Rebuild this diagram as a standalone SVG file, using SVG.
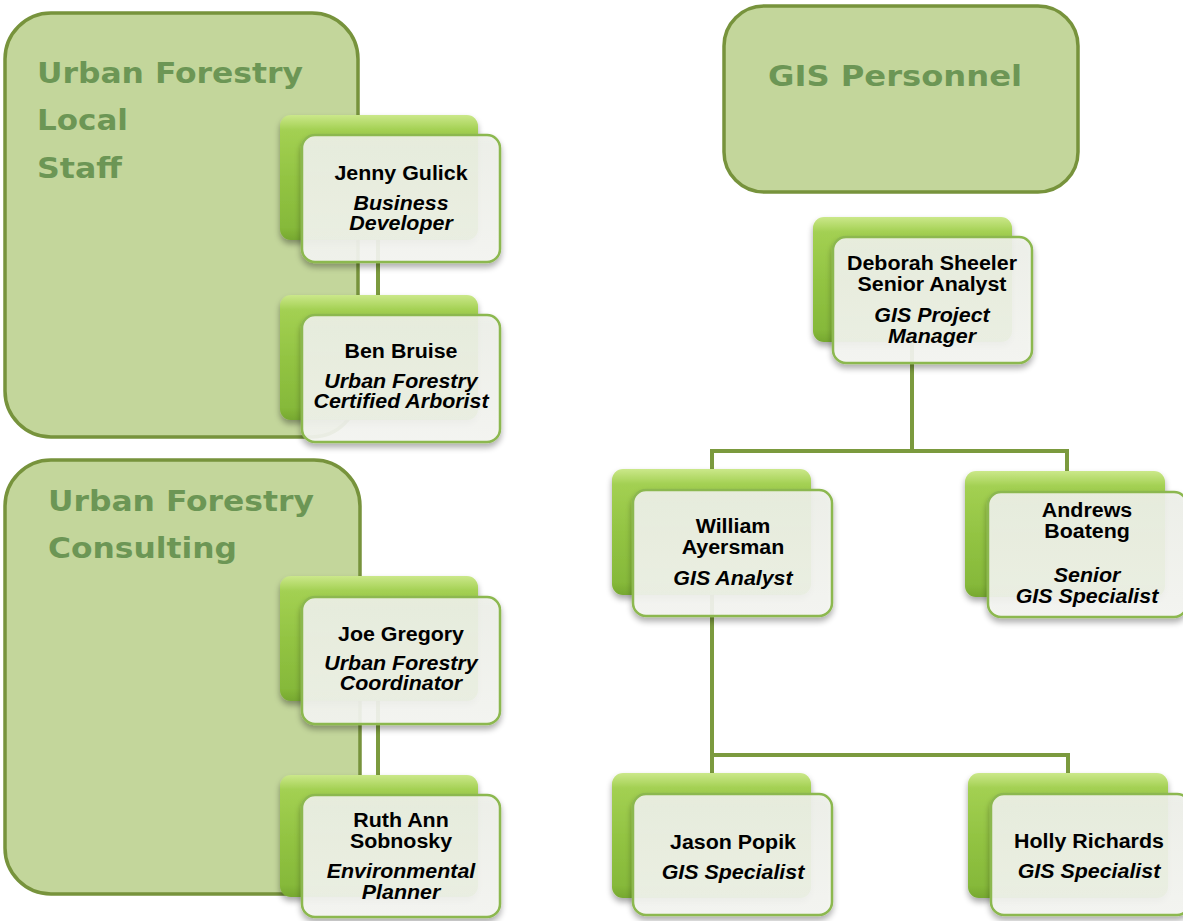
<svg xmlns="http://www.w3.org/2000/svg" width="1183" height="921" viewBox="0 0 1183 921">
<defs>
<linearGradient id="gGreen" x1="0" y1="0" x2="0" y2="1">
<stop offset="0" stop-color="#cbe88a"/>
<stop offset="0.12" stop-color="#a3d052"/>
<stop offset="0.5" stop-color="#93c443"/>
<stop offset="0.9" stop-color="#86b93a"/>
<stop offset="1" stop-color="#76a830"/>
</linearGradient>
<linearGradient id="gWhite" x1="0" y1="0" x2="0" y2="1">
<stop offset="0" stop-color="#eff1ea"/>
<stop offset="1" stop-color="#f6f7f3"/>
</linearGradient>
<filter id="shadow" x="-10%" y="-10%" width="125%" height="130%">
<feGaussianBlur in="SourceAlpha" stdDeviation="3"/>
<feOffset dx="0" dy="4" result="o"/>
<feComponentTransfer><feFuncA type="linear" slope="0.35"/></feComponentTransfer>
<feMerge><feMergeNode/><feMergeNode in="SourceGraphic"/></feMerge>
</filter>
</defs>
<style>
.box{fill:#c3d69b;stroke:#77933c;stroke-width:3.5}
.ttl{font-family:"DejaVu Sans",Verdana,sans-serif;font-weight:bold;font-size:28px;fill:#6c9655}
.back{fill:url(#gGreen)}
.front{fill:url(#gWhite);fill-opacity:0.9;stroke:#8cb84f;stroke-width:2.5}
.nm{font-family:"Liberation Sans",Arial,sans-serif;font-weight:bold;font-size:20px;fill:#000;text-anchor:middle}
.jt{font-style:italic}
.con{fill:none;stroke:#7b9a3e;stroke-width:4}
</style>
<rect width="1183" height="921" fill="#ffffff"/>

<g id="group-local">
<rect class="box" x="5" y="13" width="353" height="424" rx="46"/>
<text class="ttl" x="37" y="83" textLength="266" lengthAdjust="spacingAndGlyphs">Urban Forestry</text>
<text class="ttl" x="37" y="130" textLength="91" lengthAdjust="spacingAndGlyphs">Local</text>
<text class="ttl" x="37" y="178" textLength="85" lengthAdjust="spacingAndGlyphs">Staff</text>
</g>
<g id="group-consulting">
<rect class="box" x="5" y="460" width="355" height="434" rx="46"/>
<text class="ttl" x="48" y="511" textLength="266" lengthAdjust="spacingAndGlyphs">Urban Forestry</text>
<text class="ttl" x="48" y="558" textLength="189" lengthAdjust="spacingAndGlyphs">Consulting</text>
</g>
<g id="group-gis">
<rect class="box" x="724" y="6" width="354" height="186" rx="40"/>
<text class="ttl" x="768" y="86" textLength="254" lengthAdjust="spacingAndGlyphs">GIS Personnel</text>
</g>

<g id="connectors">
<path class="con" d="M378 235 V300"/>
<path class="con" d="M378 698 V780"/>
<path class="con" d="M912 340 V451 M712 451 H1067 M712 449 V472 M1067 449 V474"/>
<path class="con" d="M712 592 V755 M712 755 H1068 M712 753 V776 M1068 753 V776"/>
</g>

<g id="jenny">
<rect class="back" x="280" y="115" width="198" height="125" rx="11" filter="url(#shadow)"/>
<rect class="front" x="302" y="135" width="198" height="127" rx="13" filter="url(#shadow)"/>
<g transform="translate(401 0) scale(1.07 1)">
<text class="nm" x="0" y="180">Jenny Gulick</text>
<text class="nm jt" x="0" y="210">Business</text>
<text class="nm jt" x="0" y="230">Developer</text>
</g>
</g>
<g id="ben">
<rect class="back" x="280" y="295" width="198" height="125" rx="11" filter="url(#shadow)"/>
<rect class="front" x="302" y="315" width="198" height="127" rx="13" filter="url(#shadow)"/>
<g transform="translate(401 0) scale(1.07 1)">
<text class="nm" x="0" y="358">Ben Bruise</text>
<text class="nm jt" x="0" y="388">Urban Forestry</text>
<text class="nm jt" x="0" y="408">Certified Arborist</text>
</g>
</g>
<g id="joe">
<rect class="back" x="280" y="576" width="198" height="125" rx="11" filter="url(#shadow)"/>
<rect class="front" x="302" y="597" width="198" height="127" rx="13" filter="url(#shadow)"/>
<g transform="translate(401 0) scale(1.07 1)">
<text class="nm" x="0" y="641">Joe Gregory</text>
<text class="nm jt" x="0" y="670">Urban Forestry</text>
<text class="nm jt" x="0" y="690">Coordinator</text>
</g>
</g>
<g id="ruth">
<rect class="back" x="280" y="775" width="198" height="122" rx="11" filter="url(#shadow)"/>
<rect class="front" x="302" y="795" width="198" height="122" rx="13" filter="url(#shadow)"/>
<g transform="translate(401 0) scale(1.07 1)">
<text class="nm" x="0" y="827">Ruth Ann</text>
<text class="nm" x="0" y="848">Sobnosky</text>
<text class="nm jt" x="0" y="878">Environmental</text>
<text class="nm jt" x="0" y="899">Planner</text>
</g>
</g>
<g id="deborah">
<rect class="back" x="813" y="217" width="199" height="125" rx="11" filter="url(#shadow)"/>
<rect class="front" x="833" y="237" width="199" height="126" rx="13" filter="url(#shadow)"/>
<g transform="translate(932 0) scale(1.07 1)">
<text class="nm" x="0" y="270">Deborah Sheeler</text>
<text class="nm" x="0" y="291">Senior Analyst</text>
<text class="nm jt" x="0" y="322">GIS Project</text>
<text class="nm jt" x="0" y="343">Manager</text>
</g>
</g>
<g id="william">
<rect class="back" x="612" y="469" width="199" height="126" rx="11" filter="url(#shadow)"/>
<rect class="front" x="633" y="490" width="199" height="126" rx="13" filter="url(#shadow)"/>
<g transform="translate(733 0) scale(1.07 1)">
<text class="nm" x="0" y="533">William</text>
<text class="nm" x="0" y="554">Ayersman</text>
<text class="nm jt" x="0" y="585">GIS Analyst</text>
</g>
</g>
<g id="andrews">
<rect class="back" x="965" y="471" width="200" height="126" rx="11" filter="url(#shadow)"/>
<rect class="front" x="988" y="492" width="199" height="125" rx="13" filter="url(#shadow)"/>
<g transform="translate(1087 0) scale(1.07 1)">
<text class="nm" x="0" y="517">Andrews</text>
<text class="nm" x="0" y="538">Boateng</text>
<text class="nm jt" x="0" y="582">Senior</text>
<text class="nm jt" x="0" y="603">GIS Specialist</text>
</g>
</g>
<g id="jason">
<rect class="back" x="612" y="773" width="199" height="125" rx="11" filter="url(#shadow)"/>
<rect class="front" x="633" y="794" width="199" height="121" rx="13" filter="url(#shadow)"/>
<g transform="translate(733 0) scale(1.07 1)">
<text class="nm" x="0" y="849">Jason Popik</text>
<text class="nm jt" x="0" y="879">GIS Specialist</text>
</g>
</g>
<g id="holly">
<rect class="back" x="968" y="773" width="200" height="125" rx="11" filter="url(#shadow)"/>
<rect class="front" x="991" y="794" width="199" height="121" rx="13" filter="url(#shadow)"/>
<g transform="translate(1089 0) scale(1.07 1)">
<text class="nm" x="0" y="848">Holly Richards</text>
<text class="nm jt" x="0" y="878">GIS Specialist</text>
</g>
</g>
</svg>
